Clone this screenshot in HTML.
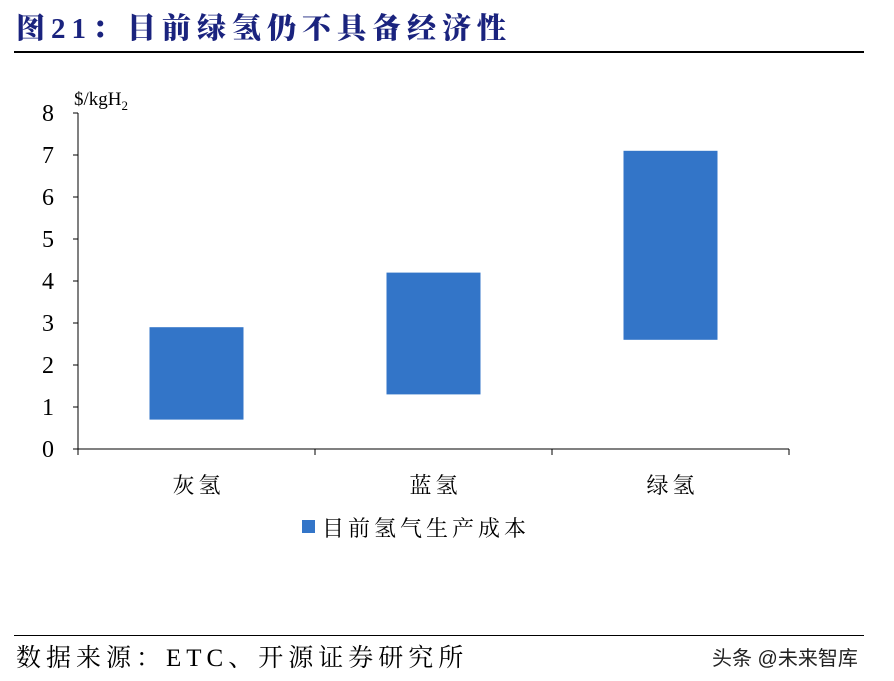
<!DOCTYPE html>
<html><head><meta charset="utf-8"><style>
body{margin:0;background:#fff;width:894px;height:681px;overflow:hidden;position:relative;font-family:"Liberation Serif","Noto Serif CJK SC",serif;}
.t{position:absolute;white-space:nowrap;}
</style></head><body>
<div class="t" style="left:16px;top:6px;font-size:29px;font-weight:900;color:#1a237e;letter-spacing:6px;font-family:'Liberation Serif','Noto Serif CJK SC',serif;">图21：目前绿氢仍不具备经济性</div>
<div style="position:absolute;left:14px;top:51px;width:850px;height:2px;background:#000"></div>
<svg id="c" width="894" height="681" style="position:absolute;left:0;top:0"></svg>
<div style="position:absolute;left:14px;top:635px;width:850px;height:1px;background:#000"></div>
<div class="t" style="left:16px;top:638px;font-size:25px;letter-spacing:5px;">数据来源：ETC、开源证券研究所</div>
<div class="t" style="left:712px;top:642px;font-size:20px;color:#222;font-family:'Liberation Sans','Noto Sans CJK SC',sans-serif;">头条 @未来智库</div>
<script>
const categories=["灰氢","蓝氢","绿氢"];
const lows=[0.7,1.3,2.6];
const highs=[2.9,4.2,7.1];
const yTicks=[0,1,2,3,4,5,6,7,8];
const svg=document.getElementById('c');
const NS='http://www.w3.org/2000/svg';
const x0=78,x1=789,yb=449,yt=113,ymax=8;
const y=v=>yb-(v/ymax)*(yb-yt);
const band=(x1-x0)/categories.length;
function mk(t,a){const e=document.createElementNS(NS,t);for(const k in a)e.setAttribute(k,a[k]);svg.appendChild(e);return e;}
let ax=mk('line',{x1:x0,y1:yt,x2:x0,y2:yb,stroke:'#000','stroke-width':1});

let bx=mk('line',{x1:x0,y1:yb,x2:x1,y2:yb,stroke:'#000','stroke-width':1});

yTicks.forEach(v=>{
 const tk=mk('line',{x1:x0-5,y1:y(v),x2:x0,y2:y(v),stroke:'#000'});
 
 const tx=mk('text',{x:42,y:y(v)+8,'font-size':24,'font-family':'Liberation Serif'});tx.textContent=v;
 
});
for(let i=0;i<=categories.length;i++){const tk=mk('line',{x1:x0+band*i,y1:yb,x2:x0+band*i,y2:yb+6,stroke:'#000'});
 }
categories.forEach((c,i)=>{
 const cx=x0+band*(i+0.5),w=94;
 const r=mk('rect',{x:cx-w/2,y:y(highs[i]),width:w,height:y(lows[i])-y(highs[i]),fill:'#3375c8'});
 
 const t=mk('text',{x:cx+2,y:493,'text-anchor':'middle','font-size':22,'letter-spacing':4,'font-family':'Noto Serif CJK SC'});t.textContent=c;
 
});
const u=mk('text',{x:74,y:105,'font-size':19,'font-family':'Liberation Serif'});
u.innerHTML='$/kgH<tspan font-size="13" dy="5">2</tspan>';

const lg=mk('rect',{x:302,y:520,width:13,height:13,fill:'#3375c8'});

const lt=mk('text',{x:322,y:536,'font-size':22,'letter-spacing':4,'font-family':'Noto Serif CJK SC'});lt.textContent='目前氢气生产成本';

</script>
</body></html>
